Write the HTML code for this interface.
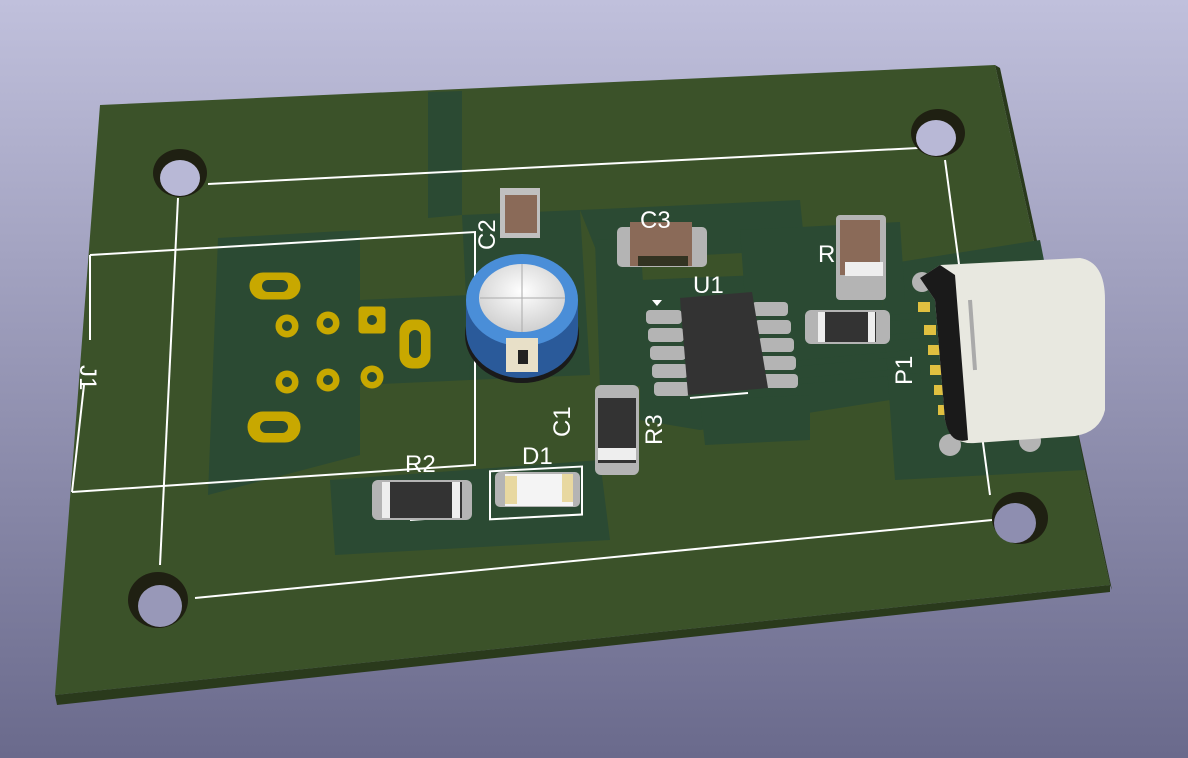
<!DOCTYPE html>
<html><head><meta charset="utf-8"><style>
html,body{margin:0;padding:0;width:1188px;height:758px;overflow:hidden}
</style></head><body>
<svg width="1188" height="758" viewBox="0 0 1188 758" xmlns="http://www.w3.org/2000/svg" font-family="Liberation Sans, sans-serif">
<defs>
<linearGradient id="bg" x1="0" y1="0" x2="0" y2="1">
<stop offset="0" stop-color="#c0c0dc"/><stop offset="1" stop-color="#6a6a8c"/></linearGradient>
<radialGradient id="cap" cx="0.5" cy="0.4" r="0.6"><stop offset="0" stop-color="#ffffff"/><stop offset="1" stop-color="#d0d0d0"/></radialGradient>
</defs>
<rect width="1188" height="758" fill="url(#bg)"/>
<!-- board edge -->
<polygon points="55,695 1110,585 1110,592 57,705" fill="#2a3a1c"/>
<polygon points="995,65 1110,585 1112,590 1000,68" fill="#2a3a1c"/>
<!-- board -->
<polygon points="100,105 995,65 1110,585 55,695" fill="#3b5229"/>
<!-- copper pours -->
<g fill="#2b4a33">
<polygon points="428,92 462,91 462,215 428,218"/>
<polygon points="218,238 360,230 360,455 208,495"/>
<polygon points="360,300 470,295 470,380 360,385"/>
<polygon points="462,215 580,210 590,375 470,380"/>
<polygon points="580,210 800,200 805,250 600,260"/>
<polygon points="595,240 640,238 650,385 600,390"/>
<polygon points="640,280 880,270 890,400 700,430 640,420"/>
<polygon points="700,400 810,395 810,440 705,445"/>
<polygon points="330,480 600,460 610,540 335,555"/>
<polygon points="880,265 1040,240 1085,470 895,480"/>
<polygon points="740,230 900,222 905,300 745,300"/>
</g>
<!-- traces -->
<g stroke="#2b4a33" stroke-width="6">
<line x1="770" y1="330" x2="920" y2="315"/><line x1="770" y1="348" x2="920" y2="335"/>
<line x1="770" y1="366" x2="920" y2="352"/><line x1="770" y1="384" x2="920" y2="370"/>
</g>
<!-- silkscreen -->
<g stroke="#ffffff" stroke-width="2" fill="none">
<line x1="208" y1="184" x2="918" y2="148"/>
<line x1="178" y1="198" x2="160" y2="565"/>
<line x1="195" y1="598" x2="992" y2="520"/>
<line x1="945" y1="160" x2="990" y2="495"/>
<polyline points="90,255 475,232 475,465 72,492"/>
<line x1="90" y1="255" x2="90" y2="340"/>
<line x1="84" y1="385" x2="72" y2="492"/>
<line x1="690" y1="398" x2="748" y2="393"/>
<line x1="410" y1="520" x2="440" y2="518"/>
<rect x="490" y="470" width="92" height="48" transform="skewY(-3) translate(0,27)"/>
</g>
<!-- holes -->
<g>
<ellipse cx="180" cy="173" rx="27" ry="24" fill="#1f2012"/><ellipse cx="180" cy="178" rx="20" ry="18" fill="#b8b8d6"/>
<ellipse cx="938" cy="133" rx="27" ry="24" fill="#1f2012"/><ellipse cx="936" cy="138" rx="20" ry="18" fill="#b8b8d6"/>
<ellipse cx="1020" cy="518" rx="28" ry="26" fill="#1f2012"/><ellipse cx="1015" cy="523" rx="21" ry="20" fill="#8e8eb0"/>
<ellipse cx="158" cy="600" rx="30" ry="28" fill="#1f2012"/><ellipse cx="160" cy="606" rx="22" ry="21" fill="#9898b8"/>
</g>
<!-- J1 pads -->
<g fill="#c8a800" stroke="#c8a800">
<rect x="250" y="273" width="50" height="26" rx="13"/>
<rect x="248" y="412" width="52" height="30" rx="15"/>
<rect x="400" y="320" width="30" height="48" rx="12"/>
<circle cx="287" cy="326" r="11"/><circle cx="328" cy="323" r="11"/><rect x="359" y="307" width="26" height="26" rx="3"/>
<circle cx="287" cy="382" r="11"/><circle cx="328" cy="380" r="11"/><circle cx="372" cy="377" r="11"/>
</g>
<g fill="#2b4a33">
<rect x="262" y="280" width="26" height="12" rx="6"/><rect x="260" y="421" width="28" height="12" rx="6"/>
<rect x="409" y="330" width="12" height="28" rx="6"/>
<circle cx="287" cy="326" r="5"/><circle cx="328" cy="323" r="5"/><circle cx="372" cy="320" r="5"/>
<circle cx="287" cy="382" r="5"/><circle cx="328" cy="380" r="5"/><circle cx="372" cy="377" r="5"/>
</g>
<!-- capacitor C1 -->
<ellipse cx="522" cy="335" rx="57" ry="48" fill="#1a1a1a"/>
<ellipse cx="522" cy="320" rx="56" ry="48" fill="#3a7ec8"/>
<path d="M466,300 L466,330 A56,48 0 0 0 578,330 L578,300 Z" fill="#2a5a9a"/>
<ellipse cx="522" cy="300" rx="56" ry="46" fill="#4a8ed8"/>
<ellipse cx="522" cy="298" rx="43" ry="34" fill="url(#cap)"/>
<line x1="480" y1="298" x2="565" y2="298" stroke="#aaa"/><line x1="522" y1="264" x2="522" y2="332" stroke="#aaa"/>
<rect x="506" y="338" width="32" height="34" fill="#e8e0c8"/><rect x="518" y="350" width="10" height="14" fill="#222"/>
<!-- C2 -->
<rect x="500" y="188" width="40" height="50" fill="#c0c0c0"/><rect x="505" y="195" width="32" height="38" fill="#8a6a58"/>
<!-- C3 -->
<rect x="617" y="227" width="90" height="40" rx="5" fill="#b4b4b4"/><rect x="630" y="222" width="62" height="44" fill="#8a6a58"/><rect x="638" y="256" width="50" height="10" fill="#332"/>
<!-- R4 -->
<rect x="836" y="215" width="50" height="85" rx="4" fill="#b4b4b4"/><rect x="840" y="220" width="40" height="55" fill="#8a6a58"/><rect x="845" y="262" width="38" height="14" fill="#eee"/>
<!-- U1 -->
<g fill="#b4b4b4">
<rect x="646" y="310" width="36" height="14" rx="4"/><rect x="648" y="328" width="36" height="14" rx="4"/><rect x="650" y="346" width="36" height="14" rx="4"/><rect x="652" y="364" width="36" height="14" rx="4"/><rect x="654" y="382" width="36" height="14" rx="4"/>
<rect x="752" y="302" width="36" height="14" rx="4"/><rect x="755" y="320" width="36" height="14" rx="4"/><rect x="758" y="338" width="36" height="14" rx="4"/><rect x="760" y="356" width="36" height="14" rx="4"/><rect x="762" y="374" width="36" height="14" rx="4"/>
</g>
<path d="M680,298 L752,292 L768,388 L688,395 Z" fill="#333"/><polygon points="652,300 662,300 657,306" fill="#fff"/>
<!-- R5 -->
<rect x="805" y="310" width="85" height="34" rx="6" fill="#b4b4b4"/><rect x="818" y="312" width="58" height="30" fill="#333"/><rect x="818" y="312" width="7" height="30" fill="#eee"/><rect x="868" y="312" width="7" height="30" fill="#eee"/>
<!-- R3 -->
<rect x="595" y="385" width="44" height="90" rx="6" fill="#b4b4b4"/><rect x="598" y="398" width="38" height="65" fill="#333"/><rect x="598" y="448" width="38" height="12" fill="#eee"/>
<!-- R2 -->
<rect x="372" y="480" width="100" height="40" rx="6" fill="#b4b4b4"/><rect x="382" y="482" width="80" height="36" fill="#333"/><rect x="382" y="482" width="8" height="36" fill="#eee"/><rect x="452" y="482" width="8" height="36" fill="#eee"/>
<!-- D1 -->
<rect x="495" y="472" width="85" height="35" rx="5" fill="#b4b4b4"/><rect x="505" y="474" width="68" height="32" fill="#f4f4f4"/><rect x="505" y="476" width="12" height="28" fill="#e8d8a0"/><rect x="562" y="474" width="11" height="28" fill="#e8d8a0"/>
<!-- P1 USB-C -->
<g fill="#b4b4b4"><circle cx="922" cy="282" r="10"/><circle cx="950" cy="445" r="11"/><circle cx="1030" cy="441" r="11"/></g>
<g fill="#e0c040"><rect x="918" y="302" width="12" height="10"/><rect x="924" y="325" width="12" height="10"/><rect x="928" y="345" width="12" height="10"/><rect x="930" y="365" width="12" height="10"/><rect x="934" y="385" width="12" height="10"/><rect x="938" y="405" width="12" height="10"/></g>
<path d="M920,278 L940,265 L1080,258 Q1105,262 1105,300 L1105,410 Q1100,432 1075,436 L975,443 Q950,445 945,420 L935,300 Z" fill="#e8e8e0"/>
<path d="M920,278 L940,265 L955,275 L968,440 Q950,445 945,420 L935,300 Z" fill="#1a1a1a"/>
<line x1="970" y1="300" x2="975" y2="370" stroke="#aaa" stroke-width="4"/>
<!-- labels -->
<g fill="#ffffff" font-size="24">
<text x="693" y="293">U1</text>
<text x="640" y="228">C3</text>
<text x="405" y="472">R2</text>
<text x="522" y="464">D1</text>
<text x="818" y="262">R</text>
<text transform="translate(495,250) rotate(-90)">C2</text>
<text transform="translate(570,437) rotate(-90)">C1</text>
<text transform="translate(662,445) rotate(-90)">R3</text>
<text transform="translate(912,385) rotate(-90)">P1</text>
<text transform="translate(80,365) rotate(90)">J1</text>
</g>
</svg>
</body></html>
